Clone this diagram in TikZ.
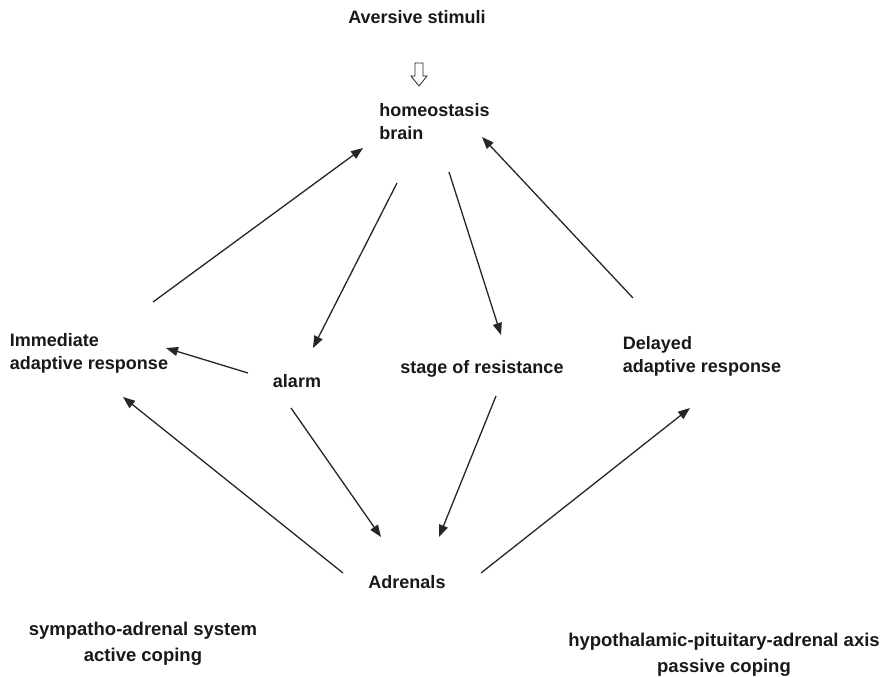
\documentclass[tikz,border=0pt]{standalone}
\usepackage{fontspec}
\setmainfont{Liberation Sans}
\usetikzlibrary{arrows.meta}
\begin{document}
\begin{tikzpicture}[x=1pt,y=-1pt,
  lbl/.style={font=\fontsize{18}{23}\selectfont\bfseries, text=black!90, inner sep=0pt},
  lblb/.style={font=\fontsize{18.5}{25.5}\selectfont\bfseries, text=black!90, inner sep=0pt, align=center},
  arr/.style={line width=1.3pt, draw=black!85, -{Triangle[length=12pt,width=9pt]}}]
\useasboundingbox[fill=white] (0,0) rectangle (884,677);
\node[lbl] (av) at (417,17) {Aversive stimuli};
\draw[line width=0.8pt, draw=black!85] (415,63) -- (423,63) -- (423,76) -- (427,76) -- (419,86) -- (411,76) -- (415,76) -- cycle;
\node[lbl, align=left] (home) at (434.5,121.5) {homeostasis\\brain};
\node[lbl, align=left] (imm) at (89,353) {Immediate\\adaptive response};
\node[lbl] (alarm) at (297,381) {alarm};
\node[lbl] (stage) at (482,369) {stage of resistance};
\node[lbl, align=left] (del) at (702,356) {Delayed\\adaptive response};
\node[lbl] (adr) at (407,582) {Adrenals};
\node[lblb] (sym) at (143,644) {sympatho-adrenal system\\active coping};
\node[lblb] (hyp) at (724,655) {hypothalamic-pituitary-adrenal axis\\passive coping};
\draw[arr] ([shift={(64,-51)}]imm.center) -- ([shift={(-71.5,26.5)}]home.center);
\draw[arr] ([shift={(-37.5,61.5)}]home.center) -- ([shift={(16,-33)}]alarm.center);
\draw[arr] ([shift={(14.5,50.5)}]home.center) -- ([shift={(19,-34)}]stage.center);
\draw[arr] ([shift={(-69,-58)}]del.center) -- ([shift={(47.5,15.5)}]home.center);
\draw[arr] ([shift={(-49,-8)}]alarm.center) -- ([shift={(77,-5)}]imm.center);
\draw[arr] ([shift={(-64,-9)}]adr.center) -- ([shift={(34,44)}]imm.center);
\draw[arr] ([shift={(-6,27)}]alarm.center) -- ([shift={(-26,-45)}]adr.center);
\draw[arr] ([shift={(14,27)}]stage.center) -- ([shift={(32,-45)}]adr.center);
\draw[arr] ([shift={(74,-9)}]adr.center) -- ([shift={(-12,52)}]del.center);
\end{tikzpicture}
\end{document}
